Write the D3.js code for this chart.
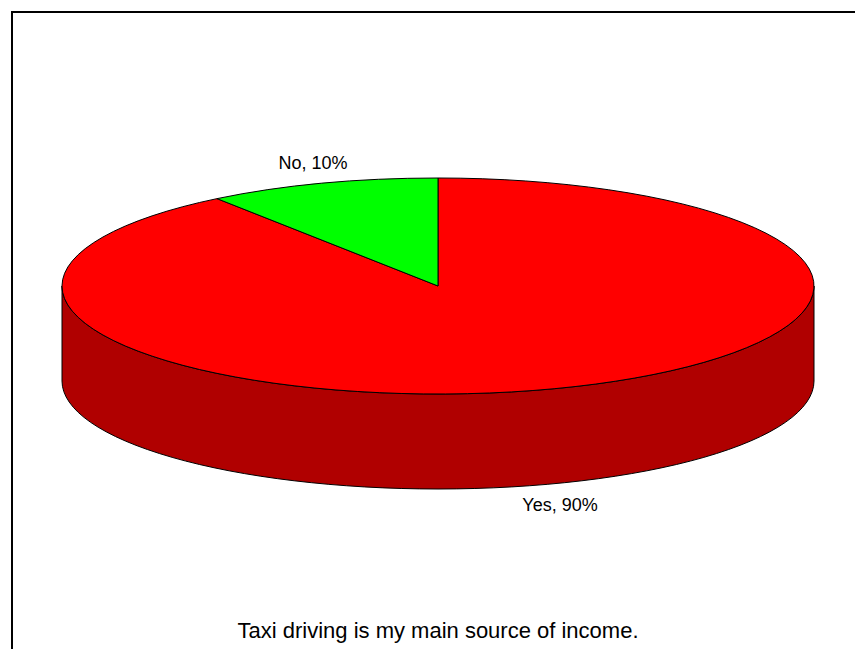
<!DOCTYPE html>
<html>
<head>
<meta charset="utf-8">
<script src="https://cdn.jsdelivr.net/npm/d3@7"></script>
<style>
  html, body { margin: 0; padding: 0; background: #fff; }
  svg { display: block; }
  text { font-family: "Liberation Sans", Arial, sans-serif; fill: #000; }
</style>
</head>
<body>
<svg id="chart" width="855" height="649"></svg>
<script>
// Survey answers and their shares (percent)
const categories = ["Yes", "No"];
const values = [90, 10];
const topColors = ["#FF0000", "#00FF00"];
const sideColors = ["#B00000", "#00B000"];
const title = "Taxi driving is my main source of income.";

const W = 855, H = 649;
const cx = 438, cy = 286, rx = 376, ry = 108, depth = 95;

const svg = d3.select("#chart");

// Frame lines (top and left)
svg.append("line").attr("x1", 11).attr("y1", 12).attr("x2", W).attr("y2", 12)
  .attr("stroke", "#000").attr("stroke-width", 2);
svg.append("line").attr("x1", 12).attr("y1", 11).attr("x2", 12).attr("y2", H)
  .attr("stroke", "#000").attr("stroke-width", 2);

const pie = d3.pie().sort(null).value(d => d.value);
const arcs = pie(categories.map((c, i) => ({ name: c, value: values[i], i })));

// Point on the tilted ellipse; angle is clockwise from 12 o'clock
const pt = (a, dy = 0) => [cx + rx * Math.sin(a), cy + dy - ry * Math.cos(a)];

// Side walls: only the front half (angles pi/2 .. 3pi/2) is visible
const wallG = svg.append("g");
arcs.forEach(d => {
  const a0 = Math.max(d.startAngle, Math.PI / 2);
  const a1 = Math.min(d.endAngle, 3 * Math.PI / 2);
  if (a1 <= a0) return;
  const p0 = pt(a0), p1 = pt(a1), q1 = pt(a1, depth), q0 = pt(a0, depth);
  const large = (a1 - a0) > Math.PI ? 1 : 0;
  const path = `M${p0[0]},${p0[1]} A${rx},${ry} 0 ${large} 1 ${p1[0]},${p1[1]}` +
    ` L${q1[0]},${q1[1]} A${rx},${ry} 0 ${large} 0 ${q0[0]},${q0[1]} Z`;
  wallG.append("path").attr("d", path)
    .attr("fill", sideColors[d.data.i])
    .attr("stroke", "#000").attr("stroke-width", 1).attr("stroke-linejoin", "round");
});

// Top face slices
const topG = svg.append("g");
arcs.forEach(d => {
  const p0 = pt(d.startAngle), p1 = pt(d.endAngle);
  const large = (d.endAngle - d.startAngle) > Math.PI ? 1 : 0;
  const path = `M${cx},${cy} L${p0[0]},${p0[1]} A${rx},${ry} 0 ${large} 1 ${p1[0]},${p1[1]} Z`;
  topG.append("path").attr("d", path)
    .attr("fill", topColors[d.data.i])
    .attr("stroke", "#000").attr("stroke-width", 1).attr("stroke-linejoin", "round");
});

// Data labels
const labelPos = { "Yes": [560, 511], "No": [313, 169] };
arcs.forEach(d => {
  const [lx, ly] = labelPos[d.data.name];
  svg.append("text").attr("x", lx).attr("y", ly)
    .attr("text-anchor", "middle").attr("font-size", 18)
    .text(`${d.data.name}, ${d.data.value}%`);
});

// Caption
svg.append("text").attr("x", 438).attr("y", 638)
  .attr("text-anchor", "middle").attr("font-size", 22)
  .text(title);
</script>
</body>
</html>
